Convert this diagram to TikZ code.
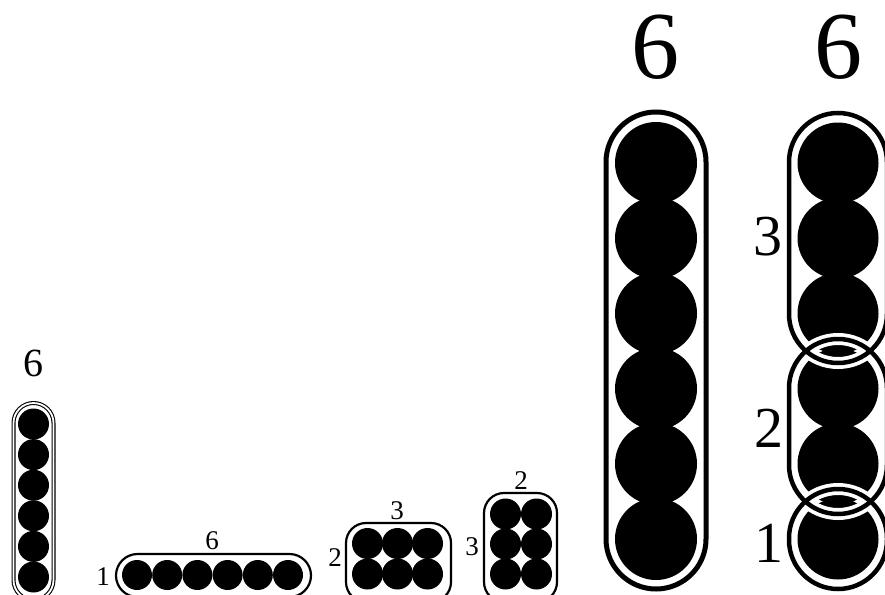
\documentclass[tikz,border=0pt]{standalone}
\usepackage{fontspec}
\setmainfont{Liberation Serif}
\begin{document}
\begin{tikzpicture}[x=1pt,y=-1pt,
  lbl/.style={inner sep=0pt,anchor=center},
  small/.style={lbl,font=\fontsize{27}{27}\selectfont},
  mid/.style={lbl,font=\fontsize{58}{58}\selectfont},
  big/.style={lbl,font=\fontsize{96}{96}\selectfont},
  ball/.style={fill=black},
  thinbox/.style={draw=black,line width=2.2pt},
  bigbox/.style={draw=black,line width=5pt},
  halo/.style={draw=white,line width=12pt},
  core/.style={draw=black,line width=4.5pt}]
\useasboundingbox (0,0) rectangle (885,594);
\clip (0,0) rectangle (885,594);
\fill[white] (0,0) rectangle (885,594);

% small vertical column
\foreach \i in {0,...,5} \fill[ball] (33.5,{424+\i*30.6}) circle (15.5pt);
\draw[line width=1.1pt,double,double distance=1.8pt,rounded corners=20pt] (13.5,403) rectangle (53.5,600);
\node[lbl,font=\fontsize{40}{40}\selectfont] (l6) at (33,363) {6};

% horizontal row
\foreach \i in {0,...,5} \fill[ball] ({137+\i*30.2},575) circle (15pt);
\draw[thinbox,rounded corners=21.5pt] (116,554) rectangle (311,597);
\node[small] (h6) at (212,541) {6};
\node[small] (h1) at (103,577) {1};

% 3 x 2 block
\foreach \x in {367.5,397.5,427.5} \foreach \y in {543.5,574} \fill[ball] (\x,\y) circle (15.5pt);
\draw[thinbox,rounded corners=20pt] (346,523) rectangle (451,602);
\node[small] (b3) at (397,511) {3};
\node[small] (b2) at (335,558) {2};

% 2 x 3 block
\foreach \x in {505.5,536.5} \foreach \y in {514,544,574} \fill[ball] (\x,\y) circle (15.5pt);
\draw[thinbox,rounded corners=20pt] (484,493) rectangle (557,602);
\node[small] (c2) at (521,481) {2};
\node[small] (c3) at (472,547) {3};

% big column
\foreach \i in {0,...,5} \fill[ball] (656,{163+\i*75.2}) circle (41pt);
\draw[bigbox,rounded corners=50pt] (606,112) rectangle (706,589);
\node[big] (m6) at (655,47) {6};

% split column
\foreach \i in {0,...,5} \fill[ball] (838,{163+\i*75.2}) circle (40.5pt);
\draw[halo,rounded corners=49pt] (789,113) rectangle (887,363);
\draw[halo,rounded corners=49pt] (789,339) rectangle (887,514);
\draw[halo,rounded corners=49pt] (789,489) rectangle (887,589);
\draw[core,rounded corners=49pt] (789,113) rectangle (887,363);
\draw[core,rounded corners=49pt] (789,339) rectangle (887,514);
\draw[core,rounded corners=49pt] (789,489) rectangle (887,589);
\node[big] (r6) at (838,47) {6};
\node[mid] (r3) at (768,237) {3};
\node[mid] (r2) at (769,428) {2};
\node[mid] (r1) at (769,543) {1};
\end{tikzpicture}
\end{document}
